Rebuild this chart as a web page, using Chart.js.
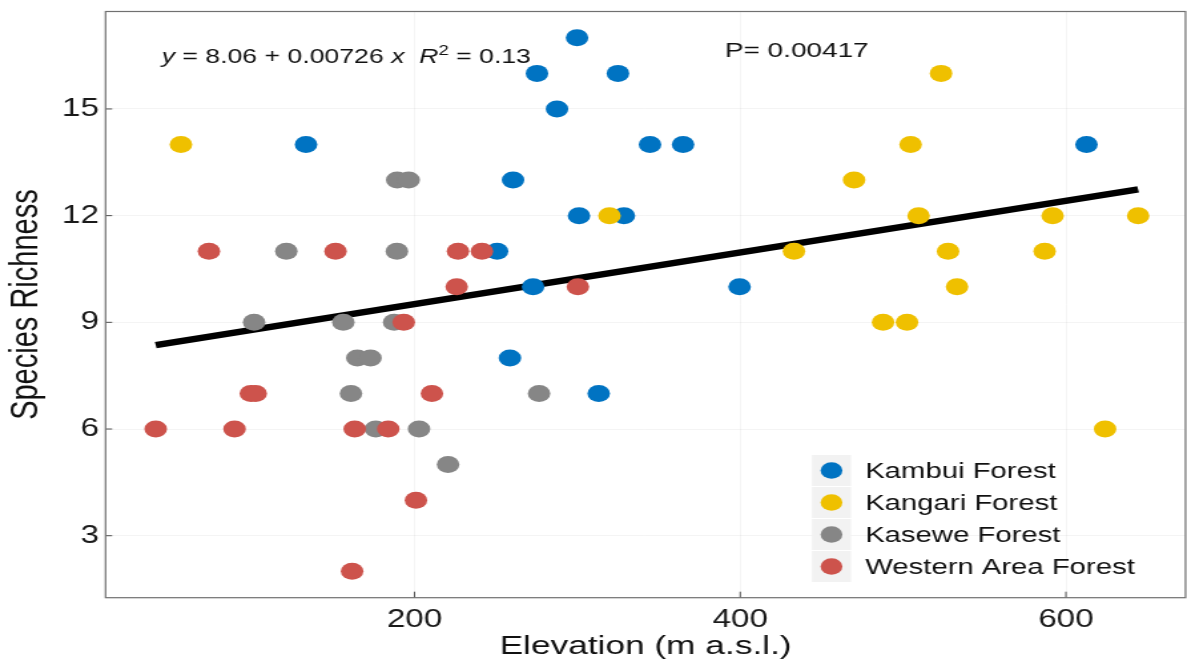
<!DOCTYPE html>
<html>
<head>
<meta charset="utf-8">
<title>Species richness vs elevation</title>
<script src="https://cdn.jsdelivr.net/npm/chart.js@4.4.1/dist/chart.umd.min.js"></script>
<style>
  html, body { margin: 0; padding: 0; background: #ffffff; overflow: hidden; }
  /* the plot is laid out on a narrower canvas and widened to the full window */
  #wrap { width: 892px; height: 664px; transform: scaleX(1.3307); transform-origin: 0 0; }
  canvas { display: block; }
</style>
</head>
<body>
<div id="wrap"><canvas id="chart" width="892" height="664"></canvas></div>
<script>
// ---- data: elevation (m a.s.l.) and species richness of each plot, per forest ----
const forestNames  = ['Kambui Forest', 'Kangari Forest', 'Kasewe Forest', 'Western Area Forest'];
const forestColors = ['#0073C2', '#EFC000', '#868686', '#CD534C'];

const kambuiElevation = [133.4, 299.8, 275.2, 324.9, 287.5, 344.6, 364.9, 612.6, 260.5, 301.0, 328.6, 250.7, 272.8, 399.6, 258.6, 313.1];
const kambuiRichness  = [14, 17, 16, 16, 15, 14, 14, 14, 13, 12, 12, 11, 10, 10, 8, 7];

const kangariElevation = [56.6, 523.3, 504.6, 469.9, 319.7, 509.5, 591.8, 644.3, 433.0, 527.6, 586.9, 533.1, 487.7, 502.4, 624.0];
const kangariRichness  = [14, 16, 14, 13, 12, 12, 12, 12, 11, 11, 11, 10, 9, 9, 6];

const kaseweElevation = [189.4, 196.4, 121.3, 189.2, 101.5, 156.3, 187.5, 164.9, 173.0, 161.0, 276.5, 176.2, 202.8, 220.6];
const kaseweRichness  = [13, 13, 11, 11, 9, 9, 9, 8, 8, 7, 7, 6, 6, 5];

const westernElevation = [73.8, 151.5, 226.7, 241.4, 225.9, 300.3, 193.4, 99.5, 102.5, 210.7, 41.1, 89.5, 163.3, 183.9, 200.9, 161.7];
const westernRichness  = [11, 11, 11, 11, 10, 10, 9, 7, 7, 7, 6, 6, 6, 6, 4, 2];

// linear fit reported on the plot
const fitIntercept = 8.06;
const fitSlope = 0.00726;
const fitR2 = 0.13;
const fitP = 0.00417;
const fitRange = [41.1, 644.3];          // elevation span of the fitted line

// axes
const xRange = [10.3, 673.4];
const yRange = [1.257, 17.74];
const xTicks = [200, 400, 600];
const yTicks = [3, 6, 9, 12, 15];

// text anchors in data units (left edge / baseline)
const equationAnchor = [44.8, 16.28];
const pValueAnchor = [390.6, 16.47];

const FONT = "'Liberation Sans', Arial, Helvetica, sans-serif";

const toPoints = (xs, ys) => xs.map((v, i) => ({ x: v, y: ys[i] }));

const forestSeries = [
  toPoints(kambuiElevation, kambuiRichness),
  toPoints(kangariElevation, kangariRichness),
  toPoints(kaseweElevation, kaseweRichness),
  toPoints(westernElevation, westernRichness)
];

const scatterSets = forestSeries.map((pts, i) => ({
  type: 'scatter',
  label: forestNames[i],
  data: pts,
  backgroundColor: forestColors[i],
  borderWidth: 0,
  pointRadius: 8.5,
  pointHoverRadius: 8.5,
  pointBorderWidth: 0,
  order: forestSeries.length - i     // later forests are drawn on top
}));

const fitLine = {
  type: 'line',
  label: 'fit',
  data: fitRange.map(v => ({ x: v, y: fitIntercept + fitSlope * v })),
  borderColor: '#000000',
  borderWidth: 6.5,
  borderCapStyle: 'butt',
  pointRadius: 0,
  fill: false,
  order: 10
};

// panel border and inward tick marks
const panelFrame = {
  id: 'panelFrame',
  afterDatasetsDraw(chart) {
    const { ctx, chartArea: a, scales: { x, y } } = chart;
    ctx.save();
    ctx.strokeStyle = '#4d4d4d';
    ctx.lineWidth = 1;
    ctx.beginPath();
    xTicks.forEach(v => {
      const px = x.getPixelForValue(v);
      ctx.moveTo(px, a.bottom); ctx.lineTo(px, a.bottom - 6);
    });
    yTicks.forEach(v => {
      const py = y.getPixelForValue(v);
      ctx.moveTo(a.left, py); ctx.lineTo(a.left + 5, py);
    });
    ctx.stroke();
    ctx.strokeStyle = '#707070';
    ctx.lineWidth = 1.2;
    ctx.strokeRect(a.left, a.top, a.right - a.left, a.bottom - a.top);
    ctx.restore();
  }
};

// regression equation and p-value
const fitText = {
  id: 'fitText',
  afterDraw(chart) {
    const { ctx, scales: { x, y } } = chart;
    ctx.save();
    ctx.fillStyle = '#111111';
    ctx.textBaseline = 'alphabetic';
    ctx.textAlign = 'left';
    const parts = [
      { text: 'y', italic: true },
      { text: ' = ' + fitIntercept.toFixed(2) + ' + ' + String(fitSlope) + ' ' },
      { text: 'x', italic: true },
      { text: '  ' },
      { text: 'R', italic: true },
      { text: '2', sup: true },
      { text: ' = ' + fitR2.toFixed(2) }
    ];
    let cx = x.getPixelForValue(equationAnchor[0]);
    const base = y.getPixelForValue(equationAnchor[1]);
    parts.forEach(p => {
      const size = p.sup ? 14 : 20;
      ctx.font = (p.italic ? 'italic ' : '') + size + 'px ' + FONT;
      ctx.fillText(p.text, cx, p.sup ? base - 8 : base);
      cx += ctx.measureText(p.text).width;
    });
    ctx.font = '21px ' + FONT;
    ctx.fillText('P= ' + String(fitP), x.getPixelForValue(pValueAnchor[0]), y.getPixelForValue(pValueAnchor[1]));
    ctx.restore();
  }
};

// legend with grey key boxes in the lower right of the panel
const forestLegend = {
  id: 'forestLegend',
  afterDraw(chart) {
    const { ctx, chartArea: a } = chart;
    const left = a.right - 280.7;
    const top = a.bottom - 142.7;
    const keyW = 29.3, keyH = 31, pitch = 32;
    ctx.save();
    ctx.textBaseline = 'alphabetic';
    ctx.textAlign = 'left';
    ctx.font = '22px ' + FONT;
    forestNames.forEach((name, i) => {
      const rowTop = top + i * pitch;
      ctx.fillStyle = '#f2f2f2';
      ctx.fillRect(left, rowTop, keyW, keyH);
      ctx.fillStyle = forestColors[i];
      ctx.beginPath();
      ctx.arc(left + keyW / 2, rowTop + keyH / 2, 8.2, 0, Math.PI * 2);
      ctx.fill();
      ctx.fillStyle = '#111111';
      ctx.fillText(name, left + 40, rowTop + keyH / 2 + 7.8);
    });
    ctx.restore();
  }
};

new Chart(document.getElementById('chart'), {
  data: { datasets: [fitLine, ...scatterSets] },
  options: {
    responsive: false,
    animation: false,
    devicePixelRatio: 1,
    layout: { autoPadding: false, padding: { top: 11.5, right: 1.1, bottom: 0, left: 0 } },
    plugins: { legend: { display: false }, tooltip: { enabled: false } },
    events: [],
    scales: {
      x: {
        type: 'linear',
        min: xRange[0],
        max: xRange[1],
        afterBuildTicks: s => { s.ticks = xTicks.map(v => ({ value: v })); },
        afterFit: s => { s.height = 66.3; s.paddingLeft = 0; s.paddingRight = 0; },
        grid: { color: 'rgba(0,0,0,0.045)', lineWidth: 1, drawTicks: false },
        border: { display: false },
        ticks: { padding: 7, color: '#1a1a1a', font: { family: FONT, size: 25 } },
        title: {
          display: true,
          text: 'Elevation (m a.s.l.)',
          color: '#111111',
          font: { family: FONT, size: 26.5, lineHeight: 1 },
          padding: { top: 0, bottom: 4 }
        }
      },
      y: {
        type: 'linear',
        min: yRange[0],
        max: yRange[1],
        afterBuildTicks: s => { s.ticks = yTicks.map(v => ({ value: v })); },
        afterFit: s => { s.width = 79.3; s.paddingTop = 0; s.paddingBottom = 0; },
        grid: { color: 'rgba(0,0,0,0.045)', lineWidth: 1, drawTicks: false },
        border: { display: false },
        ticks: { padding: 5, color: '#1a1a1a', font: { family: FONT, size: 25 } },
        title: {
          display: true,
          text: 'Species Richness',
          color: '#111111',
          font: { family: FONT, size: 29, lineHeight: 1 },
          padding: { top: 5.5, bottom: 0 }
        }
      }
    }
  },
  plugins: [panelFrame, fitText, forestLegend]
});
</script>
</body>
</html>
